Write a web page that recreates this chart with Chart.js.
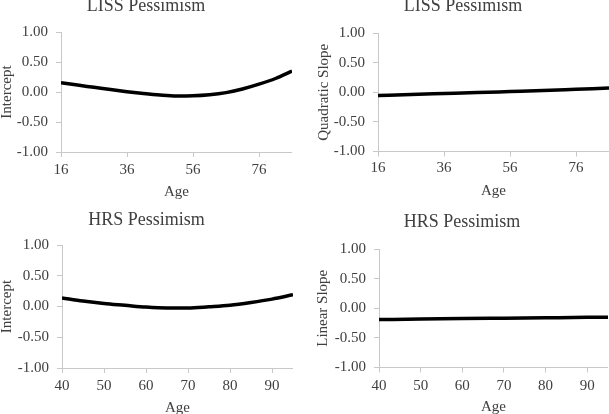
<!DOCTYPE html>
<html>
<head>
<meta charset="utf-8">
<script src="https://cdn.jsdelivr.net/npm/chart.js@4.4.1/dist/chart.umd.min.js"></script>
<style>
  html, body { margin: 0; padding: 0; width: 609px; height: 414px; overflow: hidden; background: #fff; }
  canvas { position: absolute; }
</style>
</head>
<body>
<canvas id="lissInt" width="292" height="206" style="left:0px;top:-5px"></canvas>
<canvas id="lissQuad" width="292" height="205" style="left:317px;top:-5px"></canvas>
<canvas id="hrsInt" width="293" height="208" style="left:0px;top:209px"></canvas>
<canvas id="hrsLin" width="292" height="205" style="left:316px;top:211px"></canvas>
<script>
// values
const lissAges = [16, 21, 26, 31, 36, 41, 46, 51, 56, 61, 66, 71, 76, 81, 86];
const lissIntercept = [0.155, 0.115, 0.078, 0.04, 0.005, -0.025, -0.05, -0.065, -0.062, -0.045, -0.01, 0.05, 0.13, 0.225, 0.35];
const lissSlopeAges = [16, 26, 36, 46, 56, 66, 76, 86];
const lissQuadSlope = [-0.055, -0.038, -0.022, -0.006, 0.012, 0.03, 0.05, 0.07];
const hrsAges = [40, 45, 50, 55, 60, 65, 70, 75, 80, 85, 90, 95];
const hrsIntercept = [0.14, 0.09, 0.05, 0.02, -0.01, -0.025, -0.025, -0.005, 0.02, 0.065, 0.12, 0.19];
const hrsSlopeAges = [40, 50, 60, 70, 80, 90, 95];
const hrsLinearSlope = [-0.19, -0.183, -0.175, -0.168, -0.161, -0.154, -0.15];

const lissTicks = [16, 36, 56, 76];
const hrsTicks = [40, 50, 60, 70, 80, 90];
const yTicks = [-1, -0.5, 0, 0.5, 1];

const textColor = '#404040';
const axisColor = '#c8c8c8';
Chart.defaults.font.family = '"Liberation Serif", "Times New Roman", serif';
Chart.defaults.color = textColor;

function panel(id, p) {
  new Chart(document.getElementById(id), {
    type: 'line',
    data: {
      datasets: [{
        data: p.ages.map((a, i) => ({ x: a, y: p.values[i] })),
        borderColor: '#000',
        borderWidth: 3.5,
        pointRadius: 0,
        cubicInterpolationMode: 'monotone',
        fill: false
      }]
    },
    options: {
      responsive: false,
      animation: false,
      layout: { padding: 0 },
      plugins: {
        legend: { display: false },
        tooltip: { enabled: false },
        title: {
          display: true,
          text: p.title,
          color: textColor,
          font: { size: 18, weight: 'normal', lineHeight: 1.2 },
          padding: { top: 0, bottom: p.titleGap }
        }
      },
      scales: {
        x: {
          type: 'linear',
          min: p.min,
          max: p.max,
          afterBuildTicks: s => { s.ticks = p.xTicks.map(v => ({ value: v })); },
          afterFit: s => { s.height = p.xHeight; },
          ticks: { font: { size: 15 }, color: textColor, padding: p.xPad, maxRotation: 0 },
          grid: { drawOnChartArea: false, tickLength: 5, color: axisColor },
          border: { color: axisColor, width: 1 },
          title: { display: true, text: 'Age', color: textColor, font: { size: 15 }, padding: 0 }
        },
        y: {
          min: -1,
          max: 1,
          afterBuildTicks: s => { s.ticks = yTicks.map(v => ({ value: v })); },
          afterFit: s => { s.width = p.yWidth; },
          ticks: { font: { size: 15 }, color: textColor, padding: 8, callback: v => v.toFixed(2) },
          grid: { drawOnChartArea: false, tickLength: 5, color: axisColor },
          border: { color: axisColor, width: 1 },
          title: { display: true, text: p.yTitle, color: textColor, font: { size: 15, lineHeight: 1 }, padding: 0 }
        }
      }
    }
  });
}

panel('lissInt', {
  title: 'LISS Pessimism', yTitle: 'Intercept', ages: lissAges, values: lissIntercept,
  min: 16, max: 86, xTicks: lissTicks, titleGap: 15.4, xHeight: 49, yWidth: 61, xPad: 4
});
panel('lissQuad', {
  title: 'LISS Pessimism', yTitle: 'Quadratic Slope', ages: lissSlopeAges, values: lissQuadSlope,
  min: 16, max: 86, xTicks: lissTicks, titleGap: 16.4, xHeight: 48.5, yWidth: 61, xPad: 3
});
panel('hrsInt', {
  title: 'HRS Pessimism', yTitle: 'Intercept', ages: hrsAges, values: hrsIntercept,
  min: 40, max: 95, xTicks: hrsTicks, titleGap: 14.4, xHeight: 49, yWidth: 62, xPad: 4
});
panel('hrsLin', {
  title: 'HRS Pessimism', yTitle: 'Linear Slope', ages: hrsSlopeAges, values: hrsLinearSlope,
  min: 40, max: 95, xTicks: hrsTicks, titleGap: 16.4, xHeight: 48.5, yWidth: 63, xPad: 5
});
</script>
</body>
</html>
